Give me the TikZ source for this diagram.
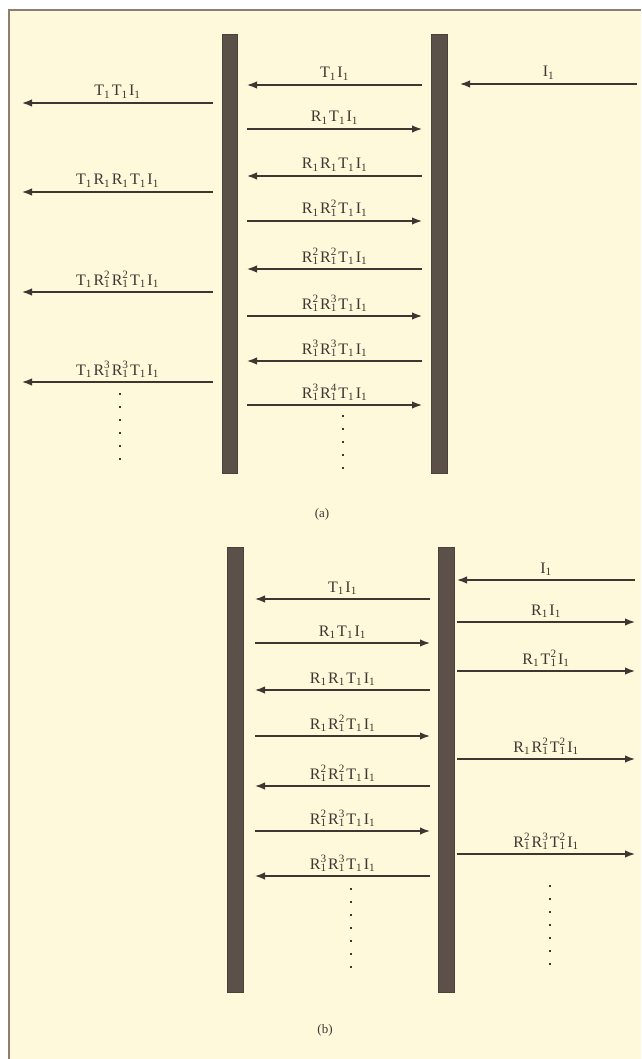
\documentclass[tikz,border=0pt]{standalone}
\usepackage{fontspec}
\setmainfont{Liberation Serif}
\usetikzlibrary{arrows.meta,calc}
\definecolor{cream}{HTML}{FFF9DC}
\definecolor{barc}{HTML}{5B5149}
\definecolor{ink}{HTML}{3E3630}
\definecolor{frame}{HTML}{8C7E70}
\newcommand{\G}[1]{#1\textsubscript{1}\hspace{1.5pt}}
\newcommand{\F}[2]{#1\rlap{\textsuperscript{#2}}\textsubscript{1}\hspace{1.5pt}}
\begin{document}
\begin{tikzpicture}[x=1pt,y=-1pt,
  bar/.style={fill=barc,draw=barc!80!black,line width=0.6pt},
  ray/.style={draw=ink,line width=1.5pt,-{Latex[length=10pt,width=7.5pt]}},
  lbl/.style={font=\fontsize{16}{19}\selectfont,text=ink,inner sep=0pt,anchor=base,yshift=7pt},
  dots/.style={draw=ink,line width=1.3pt,dash pattern=on 2pt off 11pt},
  captext/.style={font=\fontsize{13}{15}\selectfont,text=ink}]
\useasboundingbox (0,0) rectangle (641,1059);
\fill[white] (0,0) rectangle (641,1059);
\fill[cream] (9,10) rectangle (641,1059);
\draw[frame,line width=2.5pt] (9,1059) -- (9,10) -- (641,10);
% ---------- (a)
\path[bar] (222,34) rectangle (237,473);
\path[bar] (431,34) rectangle (447,473);
\coordinate (aLe) at (213,0); \coordinate (aLt) at (22,0);
\coordinate (aMl) at (247,0); \coordinate (aMr) at (422,0);
\coordinate (aRi) at (637,84); \coordinate (aRo) at (460,84);
\draw[ray] (aRi) -- (aRo) node[lbl,midway]{\G{I}};
\draw[ray] (aMr|-0,85) -- (aMl|-0,85) node[lbl,midway]{\G{T}\G{I}};
\draw[ray] (aMl|-0,129) -- (aMr|-0,129) node[lbl,midway]{\G{R}\G{T}\G{I}};
\draw[ray] (aMr|-0,176) -- (aMl|-0,176) node[lbl,midway]{\G{R}\G{R}\G{T}\G{I}};
\draw[ray] (aMl|-0,221) -- (aMr|-0,221) node[lbl,midway]{\G{R}\F{R}{2}\G{T}\G{I}};
\draw[ray] (aMr|-0,269) -- (aMl|-0,269) node[lbl,midway]{\F{R}{2}\F{R}{2}\G{T}\G{I}};
\draw[ray] (aMl|-0,316) -- (aMr|-0,316) node[lbl,midway]{\F{R}{2}\F{R}{3}\G{T}\G{I}};
\draw[ray] (aMr|-0,361) -- (aMl|-0,361) node[lbl,midway]{\F{R}{3}\F{R}{3}\G{T}\G{I}};
\draw[ray] (aMl|-0,405) -- (aMr|-0,405) node[lbl,midway]{\F{R}{3}\F{R}{4}\G{T}\G{I}};
\draw[ray] (aLe|-0,103) -- (aLt|-0,103) node[lbl,midway]{\G{T}\G{T}\G{I}};
\draw[ray] (aLe|-0,192) -- (aLt|-0,192) node[lbl,midway]{\G{T}\G{R}\G{R}\G{T}\G{I}};
\draw[ray] (aLe|-0,292) -- (aLt|-0,292) node[lbl,midway]{\G{T}\F{R}{2}\F{R}{2}\G{T}\G{I}};
\draw[ray] (aLe|-0,382) -- (aLt|-0,382) node[lbl,midway]{\G{T}\F{R}{3}\F{R}{3}\G{T}\G{I}};
\draw[dots] (120,393) -- (120,465);
\draw[dots] (343,415) -- (343,472);
\node[captext] (capa) at (322,514) {(a)};
% ---------- (b)
\path[bar] (227,547) rectangle (243,992);
\path[bar] (438,547) rectangle (454,992);
\coordinate (bMl) at (255,0); \coordinate (bMr) at (430,0);
\coordinate (bRl) at (457,0); \coordinate (bRr) at (635,0);
\draw[ray] (bRr|-0,580) -- (bRl|-0,580) node[lbl,midway]{\G{I}};
\draw[ray] (bRl|-0,622) -- (bRr|-0,622) node[lbl,midway]{\G{R}\G{I}};
\draw[ray] (bRl|-0,671) -- (bRr|-0,671) node[lbl,midway]{\G{R}\F{T}{2}\G{I}};
\draw[ray] (bRl|-0,759) -- (bRr|-0,759) node[lbl,midway]{\G{R}\F{R}{2}\F{T}{2}\G{I}};
\draw[ray] (bRl|-0,854) -- (bRr|-0,854) node[lbl,midway]{\F{R}{2}\F{R}{3}\F{T}{2}\G{I}};
\draw[ray] (bMr|-0,599) -- (bMl|-0,599) node[lbl,midway]{\G{T}\G{I}};
\draw[ray] (bMl|-0,643) -- (bMr|-0,643) node[lbl,midway]{\G{R}\G{T}\G{I}};
\draw[ray] (bMr|-0,690) -- (bMl|-0,690) node[lbl,midway]{\G{R}\G{R}\G{T}\G{I}};
\draw[ray] (bMl|-0,736) -- (bMr|-0,736) node[lbl,midway]{\G{R}\F{R}{2}\G{T}\G{I}};
\draw[ray] (bMr|-0,786) -- (bMl|-0,786) node[lbl,midway]{\F{R}{2}\F{R}{2}\G{T}\G{I}};
\draw[ray] (bMl|-0,831) -- (bMr|-0,831) node[lbl,midway]{\F{R}{2}\F{R}{3}\G{T}\G{I}};
\draw[ray] (bMr|-0,876) -- (bMl|-0,876) node[lbl,midway]{\F{R}{3}\F{R}{3}\G{T}\G{I}};
\draw[dots] (351,888) -- (351,968);
\draw[dots] (550,885) -- (550,972);
\node[captext] (capb) at (325,1030) {(b)};
\end{tikzpicture}
\end{document}
